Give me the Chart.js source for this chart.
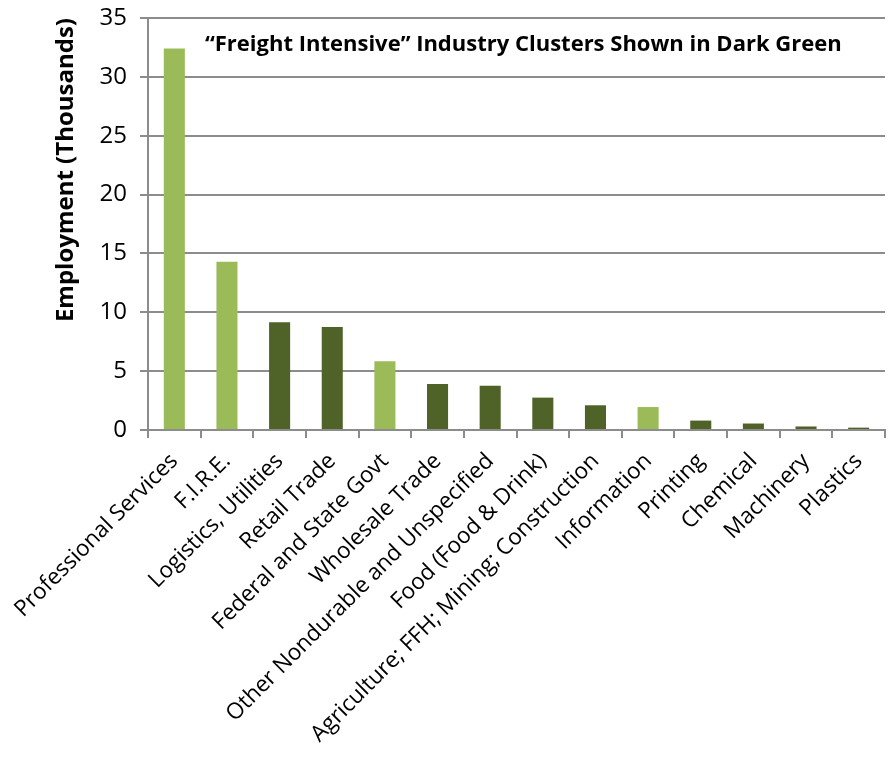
<!DOCTYPE html>
<html>
<head>
<meta charset="utf-8">
<script src="https://cdn.jsdelivr.net/npm/chart.js@4"></script>
<style>
  html, body { margin: 0; padding: 0; background: #fff; }
  #wrap { width: 889px; height: 760px; }
</style>
</head>
<body>
<div id="wrap"><canvas id="chart"></canvas></div>
<script>
const categories = [
  'Professional Services', 'F.I.R.E.', 'Logistics, Utilities', 'Retail Trade',
  'Federal and State Govt', 'Wholesale Trade', 'Other Nondurable and Unspecified',
  'Food (Food & Drink)', 'Agriculture; FFH; Mining; Construction', 'Information',
  'Printing', 'Chemical', 'Machinery', 'Plastics'
];
const employment = [32.4, 14.3, 9.15, 8.75, 5.85, 3.9, 3.75, 2.75, 2.1, 1.95, 0.8, 0.55, 0.3, 0.2];
const freightIntensive = [false, false, true, true, false, true, true, true, true, false, true, true, true, true];
const yTicks = [0, 5, 10, 15, 20, 25, 30, 35];

const LIGHT = '#9bbb59';
const DARK = '#4f6228';
const GRID = '#8c8c8c';
const FONT = '"Open Sans", Lato, sans-serif';

const noteText = '\u201CFreight Intensive\u201D Industry Clusters Shown in Dark Green';

// the note sits inside the plot area, top left
const notePlugin = {
  id: 'note',
  afterDraw(chart) {
    const ctx = chart.ctx;
    ctx.save();
    ctx.font = 'bold 22px ' + FONT;
    ctx.fillStyle = '#000';
    ctx.textAlign = 'left';
    ctx.textBaseline = 'middle';
    ctx.fillText(noteText, 205, 45);
    ctx.restore();
  }
};

new Chart(document.getElementById('chart'), {
  type: 'bar',
  data: {
    labels: categories,
    datasets: [{
      data: employment,
      backgroundColor: freightIntensive.map(f => f ? DARK : LIGHT),
      barPercentage: 0.4,
      categoryPercentage: 1.0
    }]
  },
  options: {
    responsive: true,
    maintainAspectRatio: false,
    animation: false,
    layout: { padding: { top: 18, right: 4, left: 52, bottom: 0 } },
    plugins: {
      legend: { display: false },
      tooltip: { enabled: false }
    },
    scales: {
      x: {
        grid: {
          offset: true,
          drawOnChartArea: false,
          color: GRID,
          lineWidth: 2,
          tickLength: 8
        },
        border: { color: GRID, width: 2 },
        ticks: {
          maxRotation: 45,
          minRotation: 45,
          autoSkip: false,
          color: '#000',
          font: { family: FONT, size: 22.5 },
          padding: 10
        },
        afterFit(scale) { scale.height = 330; }
      },
      y: {
        min: 0,
        max: 35,
        afterBuildTicks(scale) { scale.ticks = yTicks.map(v => ({ value: v })); },
        grid: {
          color: GRID,
          lineWidth: 2,
          tickLength: 8
        },
        border: { color: GRID, width: 2 },
        ticks: {
          color: '#000',
          font: { family: FONT, size: 24 },
          padding: 13
        },
        title: {
          display: true,
          text: 'Employment (Thousands)',
          align: 'end',
          color: '#000',
          font: { family: FONT, size: 24, weight: 'bold' },
          padding: 0
        },
        afterFit(scale) {
          scale.width = 96;
          scale.paddingTop = 0;
          scale.paddingBottom = 0;
        }
      }
    }
  },
  plugins: [notePlugin]
});
</script>
</body>
</html>
